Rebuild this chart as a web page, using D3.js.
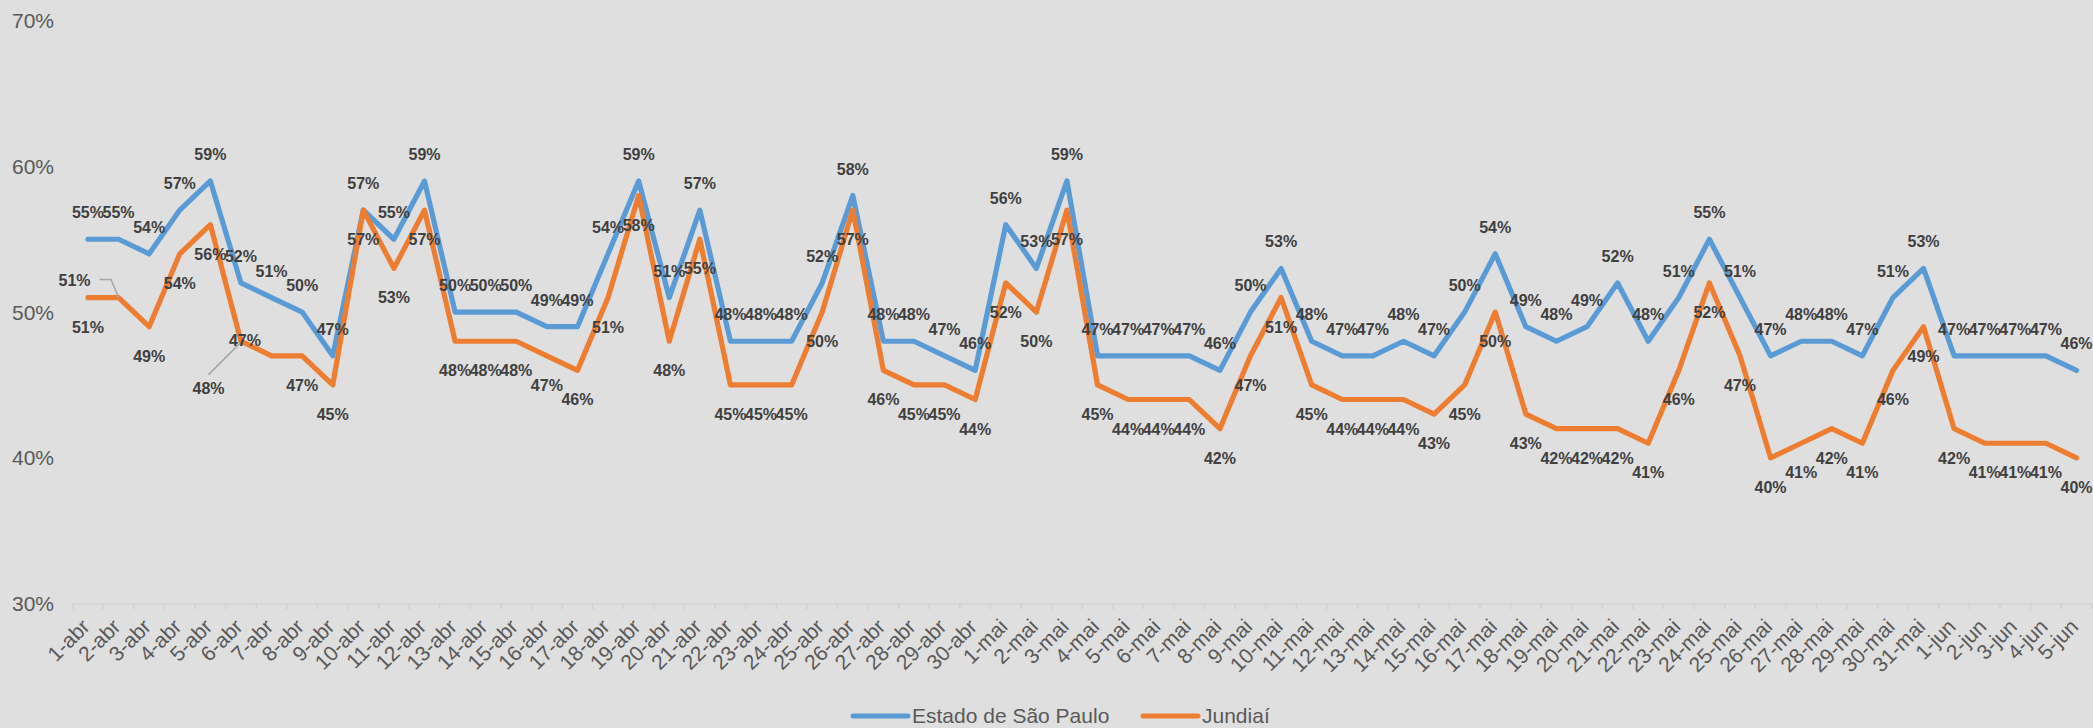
<!DOCTYPE html>
<html>
<head>
<meta charset="utf-8">
<script src="https://cdn.jsdelivr.net/npm/d3@7/dist/d3.min.js"></script>
<style>
  html, body { margin: 0; padding: 0; background: #dfdfdf; }
  svg { display: block; }
</style>
</head>
<body>
<svg id="chart" width="2093" height="728"></svg>
<script>
// ---------- DATA ----------
const categories = [
  "1-abr","2-abr","3-abr","4-abr","5-abr","6-abr","7-abr","8-abr","9-abr","10-abr",
  "11-abr","12-abr","13-abr","14-abr","15-abr","16-abr","17-abr","18-abr","19-abr","20-abr",
  "21-abr","22-abr","23-abr","24-abr","25-abr","26-abr","27-abr","28-abr","29-abr","30-abr",
  "1-mai","2-mai","3-mai","4-mai","5-mai","6-mai","7-mai","8-mai","9-mai","10-mai",
  "11-mai","12-mai","13-mai","14-mai","15-mai","16-mai","17-mai","18-mai","19-mai","20-mai",
  "21-mai","22-mai","23-mai","24-mai","25-mai","26-mai","27-mai","28-mai","29-mai","30-mai",
  "31-mai","1-jun","2-jun","3-jun","4-jun","5-jun"
];
const saoPaulo = [
  55,55,54,57,59,52,51,50,47,57,
  55,59,50,50,50,49,49,54,59,51,
  57,48,48,48,52,58,48,48,47,46,
  56,53,59,47,47,47,47,46,50,53,
  48,47,47,48,47,50,54,49,48,49,
  52,48,51,55,51,47,48,48,47,51,
  53,47,47,47,47,46
];
const jundiai = [
  51,51,49,54,56,48,47,47,45,57,
  53,57,48,48,48,47,46,51,58,48,
  55,45,45,45,50,57,46,45,45,44,
  52,50,57,45,44,44,44,42,47,51,
  45,44,44,44,43,45,50,43,42,42,
  42,41,46,52,47,40,41,42,41,46,
  49,42,41,41,41,40
];
const seriesNames = ["Estado de São Paulo", "Jundiaí"];
const yTicks = [30, 40, 50, 60, 70];

// ---------- LAYOUT ----------
const W = 2093, H = 728;
const colors = ["#5B9BD5", "#ED7D31"];
const svg = d3.select("#chart");

svg.append("rect").attr("width", W).attr("height", H).attr("fill", "#dfdfdf");

const x = d3.scaleBand().domain(categories).range([72.7, 2091.8]).padding(0);
const y = d3.scaleLinear().domain([30, 70]).range([603.5, 20.7]);
const cx = d => x(d) + x.bandwidth() / 2;

// Y axis labels
svg.append("g").selectAll("text").data(yTicks).join("text")
  .attr("x", 54).attr("y", d => y(d)).attr("dy", "0.36em")
  .attr("text-anchor", "end")
  .attr("font-family", "Liberation Sans, Arial, sans-serif")
  .attr("font-size", 21).attr("fill", "#595959")
  .text(d => d + "%");

// X axis
const xAxis = d3.axisBottom(x).tickSize(0).tickFormat("");
const gx = svg.append("g").attr("transform", `translate(0,${y(30)})`).call(xAxis);
gx.select(".domain").attr("stroke", "#d2d2d2").attr("stroke-width", 1.5);
// tick marks at band boundaries
const bounds = categories.map(c => x(c)).concat([x(categories[categories.length - 1]) + x.bandwidth()]);
svg.append("g").selectAll("line").data(bounds).join("line")
  .attr("x1", d => d).attr("x2", d => d)
  .attr("y1", y(30)).attr("y2", y(30) + 6)
  .attr("stroke", "#d2d2d2").attr("stroke-width", 1.5);
// category labels rotated
svg.append("g").selectAll("text").data(categories).join("text")
  .attr("transform", d => `translate(${cx(d) + 3},628) rotate(-45)`)
  .attr("text-anchor", "end")
  .attr("font-family", "Liberation Sans, Arial, sans-serif")
  .attr("font-size", 21).attr("fill", "#595959")
  .text(d => d);

// Lines
const series = [saoPaulo, jundiai];
const line = d3.line().x((d, i) => cx(categories[i])).y(d => y(d));
series.forEach((s, k) => {
  svg.append("path").datum(s)
    .attr("d", line)
    .attr("fill", "none")
    .attr("stroke", colors[k])
    .attr("stroke-width", 5.2)
    .attr("stroke-linejoin", "round")
    .attr("stroke-linecap", "round");
});

// Data labels: series 0 above, series 1 below; a few labels moved by hand (with leader lines)
const labelOffset = [-26.5, 29.5];
const moved = { // series 1 index -> label offset from point, leader polyline relative to point
  1: { dx: -44, dy: -17, leader: [[-19, -18], [-7.6, -18], [0, 0]] },
  5: { dx: -32.4, dy: 47.4, leader: [[-32.4, 33.4], [-1.4, 2.4]] },
  6: { dx: -26.6, dy: -15.1 }
};
const gl = svg.append("g");
series.forEach((s, k) => {
  s.forEach((v, i) => {
    const px = cx(categories[i]), py = y(v);
    let lx = px, ly = py + labelOffset[k];
    const m = k === 1 ? moved[i] : null;
    if (m) {
      lx = px + m.dx; ly = py + m.dy;
      if (m.leader) {
        gl.append("path")
          .attr("d", d3.line()(m.leader.map(p => [px + p[0], py + p[1]])))
          .attr("fill", "none").attr("stroke", "#a6a6a6").attr("stroke-width", 1.5);
      }
    }
    gl.append("text")
      .attr("x", lx).attr("y", ly).attr("dy", "0.35em")
      .attr("text-anchor", "middle")
      .attr("font-family", "Liberation Sans, Arial, sans-serif")
      .attr("font-weight", "bold")
      .attr("font-size", 16).attr("fill", "#404040")
      .text(v + "%");
  });
});

// Legend
const legendItems = [
  { name: seriesNames[0], color: colors[0], x0: 853 },
  { name: seriesNames[1], color: colors[1], x0: 1143 }
];
const lg = svg.append("g");
legendItems.forEach(it => {
  lg.append("line")
    .attr("x1", it.x0).attr("x2", it.x0 + 55)
    .attr("y1", 716).attr("y2", 716)
    .attr("stroke", it.color).attr("stroke-width", 5).attr("stroke-linecap", "round");
  lg.append("text")
    .attr("x", it.x0 + 59).attr("y", 716).attr("dy", "0.35em")
    .attr("font-family", "Liberation Sans, Arial, sans-serif")
    .attr("font-size", 21).attr("fill", "#595959")
    .text(it.name);
});
</script>
</body>
</html>
